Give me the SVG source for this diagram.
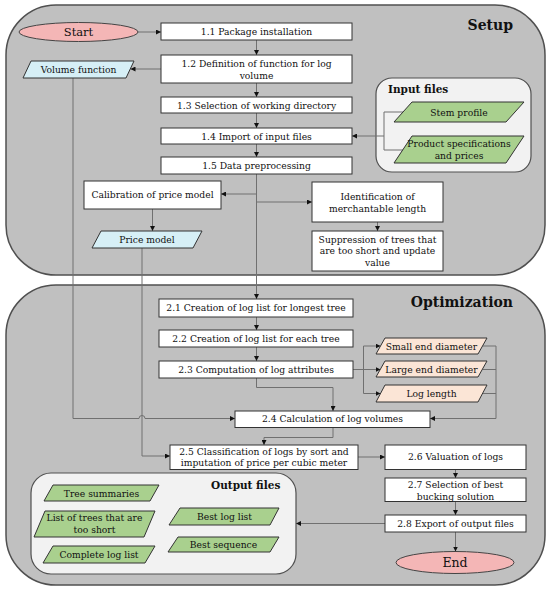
<svg xmlns="http://www.w3.org/2000/svg" width="550" height="592" viewBox="0 0 550 592">
<style>
text{font-family:"DejaVu Serif","Liberation Serif",serif;font-size:9.2px;fill:#111;text-anchor:middle}
.title{font-weight:bold;font-size:14px;text-anchor:end}
.sub{font-weight:bold;font-size:10.5px;text-anchor:start}
.panel{fill:#c0c0c0;stroke:#505050;stroke-width:1.5}
.group{fill:#f2f2f2;stroke:#505050;stroke-width:1.2}
.box{fill:#ffffff;stroke:#333;stroke-width:1}
.term{fill:#f4b6b6;stroke:#444;stroke-width:1}
.blue{fill:#d6eff6;stroke:#333;stroke-width:1}
.green{fill:#a9d08e;stroke:#333;stroke-width:1}
.peach{fill:#fbe5d6;stroke:#333;stroke-width:1}
.c{fill:none;stroke:#707070;stroke-width:1}
.a{marker-end:url(#arr)}
</style>
<defs>
<marker id="arr" viewBox="0 0 6 6" refX="6" refY="3" markerWidth="5" markerHeight="5" markerUnits="userSpaceOnUse" orient="auto">
<path d="M0,0 L6,3 L0,6 z" fill="#111"/>
</marker>
</defs>
<g id="panel-setup"><rect class="panel" x="6" y="5" width="539" height="270" rx="50"/><text class="title" x="513" y="30">Setup</text></g>
<g id="panel-optimization"><rect class="panel" x="6" y="285" width="539" height="300" rx="50"/><text class="title" x="513" y="307">Optimization</text></g>
<g id="group-input"><rect class="group" x="376" y="78" width="155" height="94" rx="16"/><text class="sub" x="388" y="93">Input files</text></g>
<g id="group-output"><rect class="group" x="31" y="473" width="265" height="101" rx="20"/><text class="sub" x="211" y="489">Output files</text></g>

<g id="connectors">
<path class="c a" d="M138,32 H161"/>
<path class="c a" d="M256.5,40 V55"/>
<path class="c a" d="M256.5,83 V97"/>
<path class="c a" d="M256.5,113 V128"/>
<path class="c a" d="M256.5,144 V157"/>
<path class="c a" d="M161,69 H130.5"/>
<path class="c" d="M403,112 H384 V150 H403"/>
<path class="c a" d="M384,136 H352"/>
<path class="c a" d="M256.5,174 V299"/>
<path class="c a" d="M256.5,194 H221"/>
<path class="c a" d="M256.5,202 H312"/>
<path class="c a" d="M152.5,209 V231"/>
<path class="c a" d="M377.5,222 V231"/>
<path class="c a" d="M73,78 V418.5 H139 A3,3 0 0 1 145,418.5 H235"/>
<path class="c a" d="M142,248 V456 H170"/>
<path class="c a" d="M256.5,317 V330"/>
<path class="c a" d="M256.5,347 V361"/>
<path class="c a" d="M353,369.5 H380.5"/>
<path class="c" d="M363.5,346 V393.5"/>
<path class="c a" d="M363.5,346 H380.5"/>
<path class="c a" d="M363.5,393.5 H380.5"/>
<path class="c a" d="M482.5,346 H496 V418.5 H430"/>
<path class="c" d="M482.5,369.5 H496"/>
<path class="c" d="M482,393.5 H496"/>
<path class="c a" d="M256.5,378 V387.5 H333 V411"/>
<path class="c a" d="M333,427.5 V437.5 H264 V445"/>
<path class="c a" d="M358,457 H385"/>
<path class="c a" d="M455.5,469.5 V478"/>
<path class="c a" d="M455.5,501.5 V515"/>
<path class="c a" d="M455.5,532 V551.5"/>
<path class="c a" d="M385,523.5 H296"/>
</g>

<g id="start"><ellipse class="term" cx="78.5" cy="32" rx="59.5" ry="9.5"/><text x="78.5" y="36" style="font-size:11.5px">Start</text></g>
<g id="n1-1"><rect class="box" x="161" y="23" width="191" height="17"/><text x="256.5" y="35">1.1 Package installation</text></g>
<g id="n1-2"><rect class="box" x="161" y="55" width="191" height="28"/><text x="256.5" y="67">1.2 Definition of function for log</text><text x="256.5" y="79">volume</text></g>
<g id="n1-3"><rect class="box" x="161" y="97" width="191" height="16"/><text x="256.5" y="108.5">1.3 Selection of working directory</text></g>
<g id="n1-4"><rect class="box" x="161" y="128" width="191" height="16"/><text x="256.5" y="139.5">1.4 Import of input files</text></g>
<g id="n1-5"><rect class="box" x="161" y="157" width="191" height="17"/><text x="256.5" y="169">1.5 Data preprocessing</text></g>
<g id="volume-function"><polygon class="blue" points="31,61 134,61 126,78 23,78"/><text x="78.5" y="73">Volume function</text></g>
<g id="stem-profile"><polygon class="green" points="412,102 524,102 506,122 394,122"/><text x="459" y="115.5">Stem profile</text></g>
<g id="product-specs"><polygon class="green" points="412,136 524,136 506,163 394,163"/><text x="459" y="146.5">Product specifications</text><text x="459" y="159">and prices</text></g>
<g id="calibration"><rect class="box" x="84" y="181" width="137" height="28"/><text x="152.5" y="197.5">Calibration of price model</text></g>
<g id="price-model"><polygon class="blue" points="101,231 202,231 193,248 92,248"/><text x="147" y="243">Price model</text></g>
<g id="identification"><rect class="box" x="312" y="182" width="131" height="40"/><text x="377.5" y="199.5">Identification of</text><text x="377.5" y="211.5">merchantable length</text></g>
<g id="suppression"><rect class="box" x="312" y="231" width="131" height="40"/><text x="377.5" y="242.5">Suppression of trees that</text><text x="377.5" y="254">are too short and update</text><text x="377.5" y="265.5">value</text></g>
<g id="n2-1"><rect class="box" x="159" y="299" width="194" height="18"/><text x="256" y="311">2.1 Creation of log list for longest tree</text></g>
<g id="n2-2"><rect class="box" x="159" y="330" width="194" height="17"/><text x="256" y="341.5">2.2 Creation of log list for each tree</text></g>
<g id="n2-3"><rect class="box" x="159" y="361" width="194" height="17"/><text x="256" y="372.5">2.3 Computation of log attributes</text></g>
<g id="small-end"><polygon class="peach" points="385,338 487,338 478,354 376,354"/><text x="431.5" y="349.5">Small end diameter</text></g>
<g id="large-end"><polygon class="peach" points="385,361 487,361 478,377 376,377"/><text x="431.5" y="372.5">Large end diameter</text></g>
<g id="log-length"><polygon class="peach" points="385,385 487,385 478,402 376,402"/><text x="431.5" y="396.5">Log length</text></g>
<g id="n2-4"><rect class="box" x="235" y="411" width="195" height="16.5"/><text x="332.5" y="422">2.4 Calculation of log volumes</text></g>
<g id="n2-5"><rect class="box" x="170" y="445" width="188" height="24.5"/><text x="264" y="454.5">2.5 Classification of logs by sort and</text><text x="264" y="466">imputation of price per cubic meter</text></g>
<g id="n2-6"><rect class="box" x="385" y="445" width="141" height="24.5"/><text x="455.5" y="460">2.6 Valuation of logs</text></g>
<g id="n2-7"><rect class="box" x="385" y="478" width="141" height="23.5"/><text x="455.5" y="488">2.7 Selection of best</text><text x="455.5" y="499.5">bucking solution</text></g>
<g id="n2-8"><rect class="box" x="385" y="515" width="141" height="17"/><text x="455.5" y="526.5">2.8 Export of output files</text></g>
<g id="end"><ellipse class="term" cx="455" cy="562.5" rx="59" ry="11"/><text x="455" y="567" style="font-size:12.5px">End</text></g>
<g id="tree-summaries"><polygon class="green" points="53,485 159,485 150,501 44,501"/><text x="101.5" y="496.5">Tree summaries</text></g>
<g id="trees-too-short"><polygon class="green" points="45,511 155,511 144,537 34,537"/><text x="94.5" y="521">List of trees that are</text><text x="94.5" y="532.5">too short</text></g>
<g id="complete-log-list"><polygon class="green" points="53,546 155,546 145,563 43,563"/><text x="99" y="558">Complete log list</text></g>
<g id="best-log-list"><polygon class="green" points="180,508 279,508 270,525 169,525"/><text x="224.5" y="520">Best log list</text></g>
<g id="best-sequence"><polygon class="green" points="178,537 279,537 270,552 168,552"/><text x="223.5" y="547.5">Best sequence</text></g>
</svg>
